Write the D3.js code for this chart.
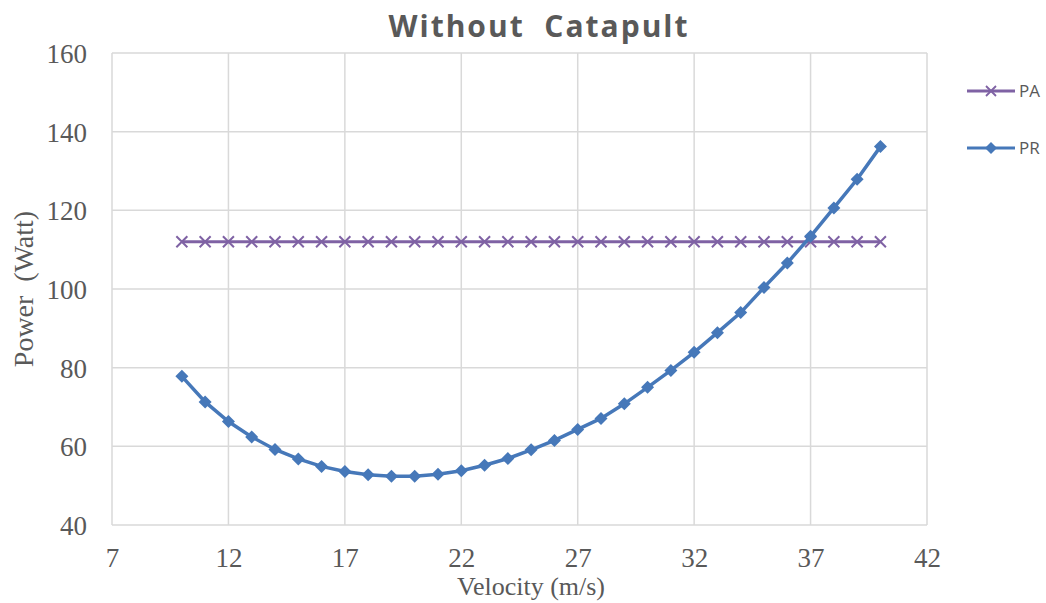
<!DOCTYPE html>
<html>
<head>
<meta charset="utf-8">
<script src="https://cdn.jsdelivr.net/npm/d3@7"></script>
<style>
  body { margin: 0; background: #fff; }
  svg { display: block; }
</style>
</head>
<body>
<svg width="1046" height="603"></svg>
<script>
// data
const velocity = [10, 11, 12, 13, 14, 15, 16, 17, 18, 19, 20, 21, 22, 23, 24, 25,
  26, 27, 28, 29, 30, 31, 32, 33, 34, 35, 36, 37, 38, 39, 40]
const powerAvailable = velocity.map(() => 112)
const powerRequired = [77.8, 71.3, 66.3, 62.4, 59.2, 56.8, 54.9, 53.6, 52.8, 52.4, 52.4,
  52.9, 53.8, 55.2, 56.9, 59.1, 61.5, 64.3, 67.1, 70.8, 75.0, 79.3, 83.9, 88.9, 94.0,
  100.4, 106.6, 113.4, 120.6, 127.9, 136.2]
const xTicks = [7, 12, 17, 22, 27, 32, 37, 42]
const yTicks = [40, 60, 80, 100, 120, 140, 160]
const seriesNames = ['PA', 'PR']

const svg = d3.select('svg')
const plotL = 112, plotR = 927, plotT = 53, plotB = 525

const x = d3.scaleLinear().domain([7, 42]).range([plotL, plotR])
const y = d3.scaleLinear().domain([40, 160]).range([plotB, plotT])

// grid
const grid = svg.append('g')
grid.selectAll('.gx').data(xTicks).enter().append('line')
  .attr('x1', d => x(d)).attr('x2', d => x(d))
  .attr('y1', plotT).attr('y2', plotB)
  .attr('stroke', '#d9d9d9').attr('stroke-width', 1.5)
grid.selectAll('.gy').data(yTicks).enter().append('line')
  .attr('x1', plotL).attr('x2', plotR)
  .attr('y1', d => y(d)).attr('y2', d => y(d))
  .attr('stroke', '#d9d9d9').attr('stroke-width', 1.5)

// axes
const xAxis = svg.append('g')
  .attr('transform', 'translate(0,' + plotB + ')')
  .call(d3.axisBottom(x).tickValues(xTicks).tickSize(0).tickPadding(23))
const yAxis = svg.append('g')
  .attr('transform', 'translate(' + plotL + ',0)')
  .call(d3.axisLeft(y).tickValues(yTicks).tickSize(0).tickPadding(25))
for (const ax of [xAxis, yAxis]) {
  ax.select('.domain').remove()
  ax.selectAll('text')
    .attr('font-family', 'Liberation Serif, serif')
    .attr('font-size', 27)
    .attr('fill', '#595959')
}
yAxis.selectAll('text').attr('dy', '0.35em')

// lines
const line = d3.line().x((d, i) => x(velocity[i])).y(d => y(d))
const colPA = '#7f62a4'
const colPR = '#4678b9'

svg.append('path').datum(powerAvailable)
  .attr('d', line).attr('fill', 'none')
  .attr('stroke', colPA).attr('stroke-width', 3)
svg.append('g').selectAll('path').data(powerAvailable).enter().append('path')
  .attr('transform', (d, i) => 'translate(' + x(velocity[i]) + ',' + y(d) + ')')
  .attr('d', 'M-5.5,-5.5L5.5,5.5M-5.5,5.5L5.5,-5.5')
  .attr('stroke', colPA).attr('stroke-width', 2).attr('fill', 'none')

svg.append('path').datum(powerRequired)
  .attr('d', line).attr('fill', 'none')
  .attr('stroke', colPR).attr('stroke-width', 3.5)
svg.append('g').selectAll('path').data(powerRequired).enter().append('path')
  .attr('transform', (d, i) => 'translate(' + x(velocity[i]) + ',' + y(d) + ')')
  .attr('d', 'M0,-6.5L6.5,0L0,6.5L-6.5,0Z')
  .attr('fill', colPR)

// title
svg.append('text')
  .attr('x', 539).attr('y', 37)
  .attr('text-anchor', 'middle')
  .attr('font-family', 'Open Sans, sans-serif')
  .attr('font-weight', 'bold')
  .attr('font-size', 30)
  .attr('letter-spacing', 2)
  .style('white-space', 'pre')
  .attr('fill', '#595959')
  .text('Without  Catapult')

// axis titles
svg.append('text')
  .attr('x', 531).attr('y', 595)
  .attr('text-anchor', 'middle')
  .attr('font-family', 'Liberation Serif, serif')
  .attr('font-size', 26)
  .attr('fill', '#595959')
  .text('Velocity (m/s)')
svg.append('text')
  .attr('transform', 'translate(33,289) rotate(-90)')
  .attr('text-anchor', 'middle')
  .attr('font-family', 'Liberation Serif, serif')
  .attr('font-size', 28)
  .style('white-space', 'pre')
  .attr('fill', '#595959')
  .text('Power  (Watt)')

// legend
const legend = svg.append('g').selectAll('g').data(seriesNames).enter().append('g')
  .attr('transform', (d, i) => 'translate(967,' + (91 + i * 57) + ')')
legend.append('line')
  .attr('x1', 0).attr('x2', 48)
  .attr('stroke', (d, i) => i === 0 ? colPA : colPR)
  .attr('stroke-width', 3)
legend.append('path')
  .attr('transform', 'translate(24,0)')
  .attr('d', (d, i) => i === 0 ? 'M-5,-5L5,5M-5,5L5,-5' : 'M0,-6L6,0L0,6L-6,0Z')
  .attr('stroke', (d, i) => i === 0 ? colPA : 'none')
  .attr('stroke-width', 1.8)
  .attr('fill', (d, i) => i === 0 ? 'none' : colPR)
legend.append('text')
  .attr('x', 52).attr('dy', '0.35em')
  .attr('font-family', 'Open Sans, sans-serif')
  .attr('font-size', 17)
  .attr('fill', '#595959')
  .text(d => d)
</script>
</body>
</html>
